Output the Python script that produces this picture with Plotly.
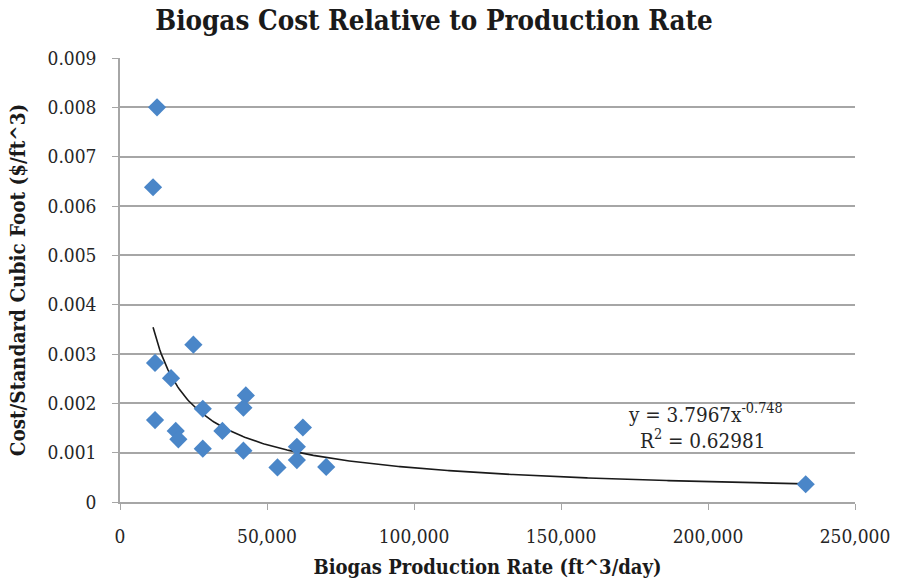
import numpy as np
import plotly.graph_objects as go

# Biogas production rate (ft^3/day) and cost per standard cubic foot ($/ft^3)
production_rate = [12600, 11240, 11920, 24960, 17360, 11920, 18960, 19850, 28160, 28160,
                   34830, 42800, 41980, 41980, 53560, 60160, 60160, 62210, 70140, 233230]
cost_per_scf = [0.00800, 0.00638, 0.00282, 0.00319, 0.00251, 0.00166, 0.00144, 0.00127,
                0.00189, 0.00108, 0.00144, 0.00216, 0.00191, 0.00104, 0.00070, 0.00112,
                0.00085, 0.00151, 0.00071, 0.00036]

# Power trendline y = a * x^b
fit_a = 3.7967
fit_b = -0.748
fit_r2 = 0.62981

x_ticks = [0, 50000, 100000, 150000, 200000, 250000]
y_ticks = [0, 0.001, 0.002, 0.003, 0.004, 0.005, 0.006, 0.007, 0.008, 0.009]

serif = "DejaVu Serif Condensed, DejaVu Serif, serif"
grid_col = "#a6a6a6"
text_col = "#262626"

trend_x = np.linspace(min(production_rate), max(production_rate), 400)
trend_y = fit_a * trend_x ** fit_b

fig = go.Figure()
fig.add_trace(go.Scatter(
    x=trend_x, y=trend_y, mode="lines",
    line=dict(color="#1a1a1a", width=1.6),
    hoverinfo="skip", showlegend=False,
))
fig.add_trace(go.Scatter(
    x=production_rate, y=cost_per_scf, mode="markers",
    marker=dict(symbol="diamond", size=14, color="#4a86c8",
                line=dict(width=0)),
    showlegend=False,
))

# Trendline equation and R^2 label
fig.add_annotation(
    x=(705 - 120) / (855 - 120), y=1 - (413 - 58) / (502 - 58),
    xref="x domain", yref="y domain",
    text=f"y = {fit_a}x<sup>{fit_b}</sup>",
    showarrow=False, font=dict(family=serif, size=20.5, color=text_col),
    xanchor="center", yanchor="middle",
)
fig.add_annotation(
    x=(703 - 120) / (855 - 120), y=1 - (439 - 58) / (502 - 58),
    xref="x domain", yref="y domain",
    text=f"R<sup>2</sup> = {fit_r2}",
    showarrow=False, font=dict(family=serif, size=20.5, color=text_col),
    xanchor="center", yanchor="middle",
)

fig.update_layout(
    width=899, height=579,
    margin=dict(l=120, r=44, t=58, b=77),
    paper_bgcolor="white", plot_bgcolor="white",
    title=dict(
        text="<b>Biogas Cost Relative to Production Rate</b>",
        x=434 / 899, xanchor="center", y=1 - 20 / 579, yanchor="middle",
        font=dict(family=serif, size=27.5, color="#1a1a1a"),
    ),
    font=dict(family=serif, color=text_col),
)
fig.update_xaxes(
    range=[0, 250000], tickvals=x_ticks,
    ticktext=[f"{v:,}" for v in x_ticks],
    tickfont=dict(family=serif, size=19, color=text_col),
    showgrid=False, zeroline=False, automargin=False,
    showline=True, linecolor=grid_col, linewidth=1.5,
    ticks="outside", ticklen=6, tickcolor=grid_col,
    ticklabelstandoff=10,
    title=dict(text="<b>Biogas Production Rate (ft^3/day)</b>",
               font=dict(family=serif, size=20, color="#1a1a1a"), standoff=14),
)
fig.update_yaxes(
    range=[0, 0.009], tickvals=y_ticks,
    ticktext=["0"] + [f"{v:.3f}" for v in y_ticks[1:]],
    tickfont=dict(family=serif, size=19, color=text_col),
    showgrid=True, gridcolor=grid_col, gridwidth=1.5,
    zeroline=False, automargin=False,
    showline=True, linecolor=grid_col, linewidth=1.5,
    ticks="outside", ticklen=6, tickcolor=grid_col,
    ticklabelstandoff=12,
    title=dict(text="<b>Cost/Standard Cubic Foot ($/ft^3)</b>",
               font=dict(family=serif, size=20.5, color="#1a1a1a"), standoff=16),
)

fig.write_html("out.html")
